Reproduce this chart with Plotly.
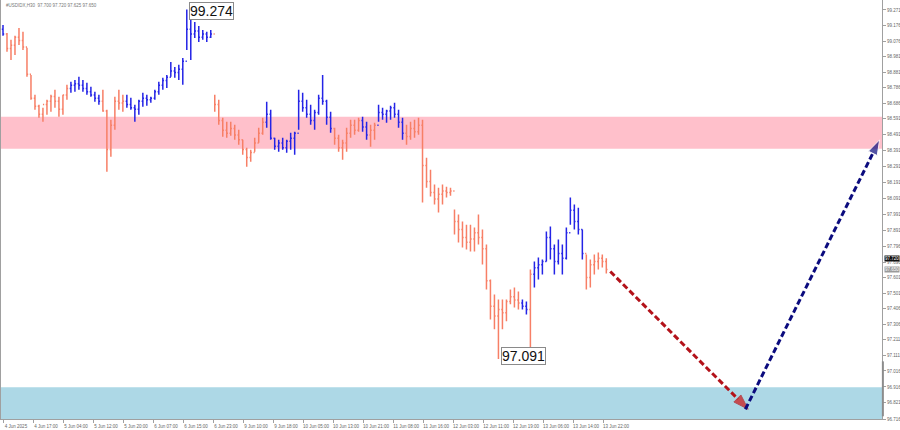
import plotly.graph_objects as go

# ---------------- data ----------------
symbol_header = "#USDIDX,H30  97.700 97.720 97.625 97.650"

time_labels = ["4 Jun 2025", "4 Jun 17:00", "5 Jun 04:00", "5 Jun 12:00", "5 Jun 20:00",
               "6 Jun 07:00", "6 Jun 15:00", "6 Jun 23:00", "9 Jun 10:00", "9 Jun 18:00",
               "10 Jun 05:00", "10 Jun 13:00", "10 Jun 21:00", "11 Jun 08:00", "11 Jun 16:00",
               "12 Jun 03:00", "12 Jun 11:00", "12 Jun 19:00", "13 Jun 06:00", "13 Jun 14:00",
               "13 Jun 22:00"]

price_ticks = [99.271, 99.176, 99.076, 98.981, 98.881, 98.786, 98.686, 98.591, 98.491,
               98.391, 98.291, 98.191, 98.091, 97.991, 97.891, 97.796, 97.696, 97.601,
               97.501, 97.406, 97.306, 97.211, 97.111, 97.016, 96.916, 96.821, 96.716]

high = [99.177, 99.127, 99.084, 99.109, 99.158, 99.134, 99.034, 98.865, 98.741, 98.678,
        98.660, 98.710, 98.741, 98.772, 98.728, 98.741, 98.803, 98.822, 98.834, 98.853,
        98.834, 98.816, 98.791, 98.760, 98.741, 98.772, 98.647, 98.585, 98.728, 98.772,
        98.741, 98.741, 98.722, 98.678, 98.710, 98.753, 98.741, 98.728, 98.772, 98.822,
        98.847, 98.865, 98.946, 98.915, 98.928, 98.971, 99.274, 99.221, 99.196, 99.171,
        99.146, 99.134, 99.146, 98.741, 98.710, 98.597, 98.572, 98.572, 98.554, 98.522,
        98.460, 98.410, 98.398, 98.473, 98.535, 98.597, 98.697, 98.647, 98.473, 98.460,
        98.473, 98.460, 98.504, 98.510, 98.772, 98.753, 98.710, 98.678, 98.647, 98.741,
        98.865, 98.710, 98.635, 98.535, 98.491, 98.460, 98.535, 98.585, 98.585, 98.597,
        98.604, 98.572, 98.554, 98.566, 98.678, 98.660, 98.647, 98.672, 98.691, 98.647,
        98.597, 98.554, 98.572, 98.585, 98.597, 98.585, 98.348, 98.273, 98.180, 98.161,
        98.180, 98.167, 98.161, 98.024, 97.993, 97.949, 97.930, 97.930, 97.912, 97.993,
        97.899, 97.806, 97.587, 97.494, 97.463, 97.463, 97.463, 97.525, 97.538, 97.513,
        97.463, 97.450, 97.650, 97.700, 97.725, 97.712, 97.887, 97.918, 97.806, 97.837,
        97.806, 97.912, 98.099, 98.055, 98.036, 97.899, 97.743, 97.712, 97.743, 97.756,
        97.743, 97.720]

low = [99.109, 99.009, 98.959, 98.990, 99.052, 99.021, 98.853, 98.710, 98.647, 98.597,
       98.572, 98.616, 98.635, 98.660, 98.604, 98.616, 98.710, 98.753, 98.760, 98.772,
       98.760, 98.741, 98.728, 98.697, 98.678, 98.635, 98.261, 98.354, 98.522, 98.647,
       98.635, 98.660, 98.647, 98.572, 98.616, 98.666, 98.672, 98.691, 98.710, 98.741,
       98.772, 98.784, 98.853, 98.847, 98.834, 98.803, 99.021, 98.959, 99.096, 99.071,
       99.084, 99.071, 99.096, 98.635, 98.554, 98.479, 98.473, 98.485, 98.460, 98.429,
       98.367, 98.292, 98.323, 98.385, 98.441, 98.491, 98.535, 98.460, 98.398, 98.385,
       98.398, 98.379, 98.398, 98.367, 98.522, 98.635, 98.597, 98.554, 98.522, 98.616,
       98.678, 98.554, 98.504, 98.429, 98.385, 98.336, 98.385, 98.473, 98.491, 98.510,
       98.510, 98.460, 98.417, 98.460, 98.572, 98.585, 98.566, 98.585, 98.597, 98.535,
       98.460, 98.429, 98.460, 98.473, 98.491, 98.068, 98.161, 98.105, 98.055, 98.005,
       98.055, 98.099, 98.111, 97.868, 97.818, 97.787, 97.775, 97.762, 97.762, 97.806,
       97.681, 97.525, 97.338, 97.276, 97.091, 97.276, 97.326, 97.432, 97.413, 97.400,
       97.400, 97.369, 97.151, 97.538, 97.587, 97.619, 97.700, 97.712, 97.619, 97.681,
       97.619, 97.712, 97.930, 97.899, 97.868, 97.712, 97.525, 97.538, 97.619, 97.650,
       97.662, 97.625]

close = [99.12, 99.03, 99.05, 99.10, 99.08, 99.04, 98.87, 98.72, 98.67, 98.62,
         98.68, 98.70, 98.73, 98.70, 98.65, 98.74, 98.78, 98.80, 98.81, 98.80,
         98.78, 98.76, 98.74, 98.72, 98.70, 98.64, 98.40, 98.55, 98.70, 98.69,
         98.70, 98.68, 98.66, 98.65, 98.70, 98.72, 98.71, 98.72, 98.76, 98.80,
         98.83, 98.85, 98.89, 98.88, 98.90, 98.95, 99.15, 99.12, 99.14, 99.10,
         99.12, 99.10, 99.12, 98.68, 98.58, 98.52, 98.50, 98.53, 98.49, 98.46,
         98.40, 98.35, 98.38, 98.44, 98.50, 98.57, 98.62, 98.47, 98.42, 98.44,
         98.41, 98.45, 98.47, 98.50, 98.70, 98.66, 98.62, 98.58, 98.63, 98.72,
         98.70, 98.60, 98.53, 98.47, 98.41, 98.44, 98.50, 98.55, 98.52, 98.58,
         98.54, 98.49, 98.52, 98.55, 98.63, 98.62, 98.64, 98.66, 98.62, 98.57,
         98.50, 98.48, 98.53, 98.51, 98.55, 98.30, 98.20, 98.13, 98.09, 98.12,
         98.14, 98.13, 98.14, 97.95, 97.90, 97.85, 97.82, 97.84, 97.88, 97.85,
         97.78, 97.58, 97.42, 97.36, 97.40, 97.38, 97.45, 97.48, 97.46, 97.44,
         97.42, 97.40, 97.62, 97.66, 97.68, 97.70, 97.85, 97.78, 97.70, 97.75,
         97.72, 97.88, 98.02, 97.95, 97.90, 97.75, 97.60, 97.68, 97.70, 97.72,
         97.70, 97.65]
first_open = 99.15

# wave segments: first bar index of each segment, colours alternate up / down
wave_starts = [0, 1, 17, 25, 31, 53, 66, 83, 90, 92, 94, 101, 130, 132, 133, 146]
wave_kinds = ["up", "down", "up", "down", "up", "down", "up", "down",
              "up", "down", "up", "down", "up", "down", "up", "down"]

# price zones
resistance_zone = (98.404, 98.604)
support_zone = (96.716, 96.914)

# forecast path (bar index, price)
forecast_down_x = [152, 186.5]
forecast_down_y = [97.637, 96.777]
forecast_up_x = [185.8, 219.4]
forecast_up_y = [96.777, 98.460]

marked_high = 99.274
marked_low = 97.091
bid_label = 97.720
last_label = 97.650

# ---------------- figure ----------------
n = len(high)
xs = list(range(n))
opens = [first_open] + close[:-1]

UP = "#2424E6"
DOWN = "#F77F66"

fig = go.Figure()

groups = {"up": ([], [], [], [], []), "down": ([], [], [], [], [])}
bounds = wave_starts + [n]
for k, kind in enumerate(wave_kinds):
    for i in range(bounds[k], bounds[k + 1]):
        g = groups[kind]
        g[0].append(xs[i]); g[1].append(opens[i]); g[2].append(high[i])
        g[3].append(low[i]); g[4].append(close[i])
for kind, col in (("up", UP), ("down", DOWN)):
    gx, go_, gh, gl, gc = groups[kind]
    fig.add_trace(go.Ohlc(x=gx, open=go_, high=gh, low=gl, close=gc,
                          increasing=dict(line=dict(color=col, width=1.5)),
                          decreasing=dict(line=dict(color=col, width=1.5)),
                          tickwidth=0.3, hoverinfo="skip", showlegend=False))

# zones
fig.add_shape(type="rect", xref="paper", x0=0, x1=1, yref="y",
              y0=resistance_zone[0], y1=resistance_zone[1],
              fillcolor="#FFC0CB", line_width=0, layer="below")
fig.add_shape(type="rect", xref="paper", x0=0, x1=1, yref="y",
              y0=support_zone[0], y1=support_zone[1],
              fillcolor="#ADD8E6", line_width=0, layer="below")

# forecast arrows
fig.add_trace(go.Scatter(x=forecast_down_x, y=forecast_down_y, mode="lines+markers",
                         line=dict(color="#B3121A", width=3, dash="6px,3px"),
                         marker=dict(symbol="arrow", size=[0, 16], angleref="previous",
                                     color="#D01010"),
                         cliponaxis=False, hoverinfo="skip", showlegend=False))
fig.add_trace(go.Scatter(x=forecast_up_x, y=forecast_up_y, mode="lines+markers",
                         line=dict(color="#0B0B7E", width=3, dash="6px,3px"),
                         marker=dict(symbol="arrow", size=[0, 16], angleref="previous",
                                     color="#0B0B7E"),
                         cliponaxis=False, hoverinfo="skip", showlegend=False))

# value markers
label_font = dict(family="Liberation Sans, Arial", size=14, color="#111")
fig.add_annotation(x=high.index(marked_high) + 0.6, y=marked_high - 0.01, text=f"{marked_high:.3f}",
                   showarrow=False, xanchor="left", yanchor="middle", font=label_font,
                   bgcolor="white", bordercolor="#8a8a8a", borderwidth=1, borderpad=0)
fig.add_annotation(x=low.index(marked_low) + 0.7, y=marked_low + 0.017, text=f"{marked_low:.3f}",
                   showarrow=False, xanchor="left", yanchor="middle", font=label_font,
                   bgcolor="white", bordercolor="#8a8a8a", borderwidth=1, borderpad=0)

# header
fig.add_annotation(xref="paper", yref="paper", x=0.003, y=0.998, text=symbol_header,
                   showarrow=False, xanchor="left", yanchor="top",
                   font=dict(family="Liberation Sans, Arial", size=4.5, color="#777"))

# price labels on the axis
fig.add_annotation(xref="paper", yref="y", x=1, y=bid_label, xshift=2, text=f"{bid_label:.3f}",
                   showarrow=False, xanchor="left", yanchor="middle", bgcolor="#111",
                   font=dict(family="Liberation Sans, Arial", size=4.5, color="white"), borderpad=0)
fig.add_annotation(xref="paper", yref="y", x=1, y=last_label, xshift=2, text=f"{last_label:.3f}",
                   showarrow=False, xanchor="left", yanchor="middle", bgcolor="#9a9a9a",
                   font=dict(family="Liberation Sans, Arial", size=4.5, color="white"), borderpad=0)
fig.add_shape(type="line", xref="paper", x0=1.001, x1=1.001, yref="y", y0=96.733, y1=97.076,
              line=dict(color="#8c8c8c", width=2))

tick_pos = [k * 7.51 for k in range(len(time_labels))]

fig.update_layout(
    width=900, height=430,
    margin=dict(l=1, r=18, t=0, b=11),
    plot_bgcolor="white", paper_bgcolor="white",
    showlegend=False,
    xaxis=dict(range=[-0.5, 220], rangeslider=dict(visible=False),
               showline=True, linecolor="#a0a0a0", linewidth=1,
               ticks="outside", ticklen=3, tickcolor="#a0a0a0",
               tickvals=tick_pos, ticktext=time_labels, ticklabelshift=13,
               tickfont=dict(family="Liberation Sans, Arial", size=4.5, color="#666"),
               showgrid=False, zeroline=False, automargin=False),
    yaxis=dict(range=[96.716, 99.333], side="right",
               showline=True, mirror=True, linecolor="#a0a0a0", linewidth=1,
               ticks="outside", ticklen=3, tickcolor="#a0a0a0",
               tickvals=price_ticks, ticktext=[f"{v:.3f}" for v in price_ticks],
               tickfont=dict(family="Liberation Sans, Arial", size=4.5, color="#666"),
               showgrid=False, zeroline=False, automargin=False),
)

fig.write_html("out.html", config={"displayModeBar": False},
               post_script="document.body.style.margin='0';document.body.style.overflow='hidden';")
